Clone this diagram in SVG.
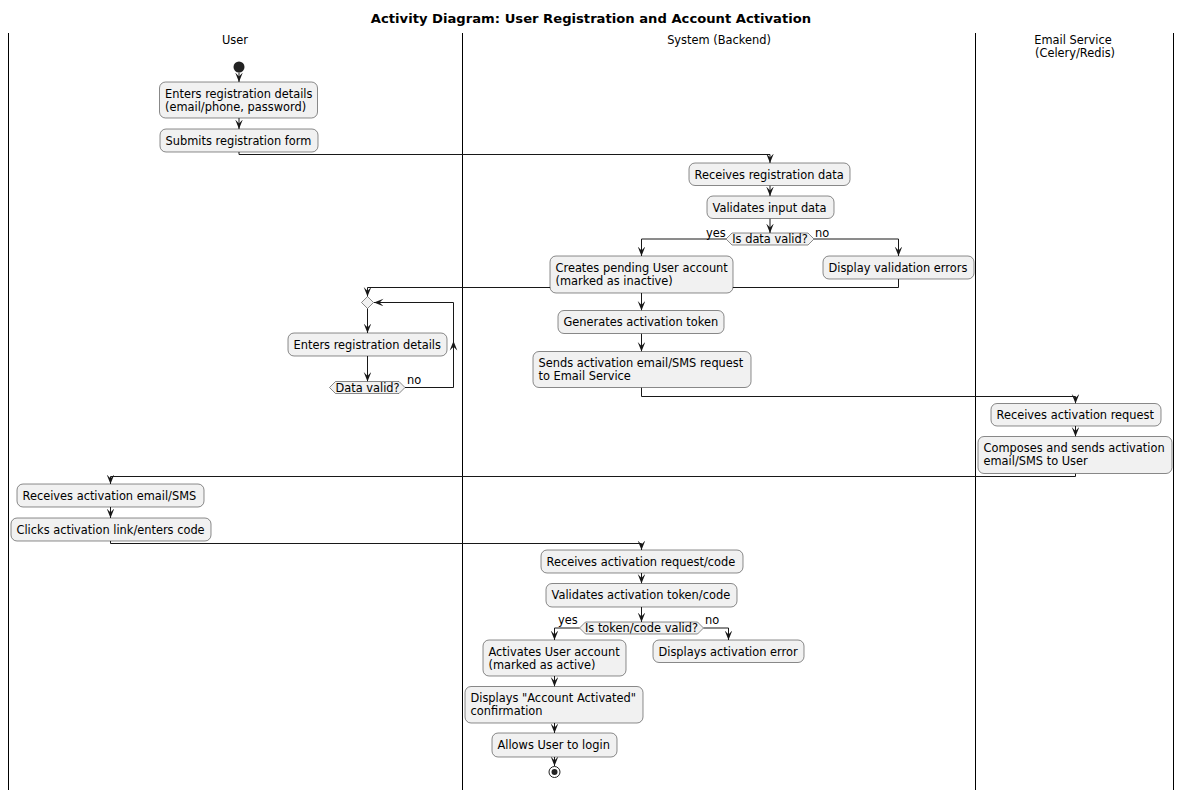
<svg xmlns="http://www.w3.org/2000/svg" width="1183" height="793" viewBox="0 0 1183 793">
<style>
.t{font-family:"DejaVu Sans","Liberation Sans",sans-serif;font-size:11.4px;fill:#000}
.c{text-anchor:middle}
.title{font-family:"DejaVu Sans","Liberation Sans",sans-serif;font-size:13.15px;font-weight:bold;text-anchor:middle;fill:#000}
.box{fill:#F1F1F1;stroke:#181818;stroke-width:0.5}
.lane{stroke:#000;stroke-width:1}
.edge{fill:none;stroke:#181818;stroke-width:1;marker-end:url(#ah)}
</style>
<defs>
<marker id="ah" markerUnits="userSpaceOnUse" markerWidth="10" markerHeight="8" refX="9.5" refY="3.8" orient="auto">
<path d="M0,0 L9.5,3.8 L0,7.6 L4,3.8 Z" fill="#181818"/>
</marker>
</defs>
<rect width="1183" height="793" fill="#fff"/>
<text class="title" x="591" y="23">Activity Diagram: User Registration and Account Activation</text>
<g id="lanes">
<line class="lane" x1="8.5" y1="33" x2="8.5" y2="790"/>
<line class="lane" x1="462.5" y1="33" x2="462.5" y2="790"/>
<line class="lane" x1="975.5" y1="33" x2="975.5" y2="790"/>
<line class="lane" x1="1173.5" y1="33" x2="1173.5" y2="790"/>
<text class="t c" x="235" y="44">User</text>
<text class="t c" x="719" y="44">System (Backend)</text>
<text class="t c" x="1073" y="44">Email Service</text>
<text class="t c" x="1075" y="57">(Celery/Redis)</text>
</g>
<g id="connectors">
<path class="edge" d="M239,72.5 V82"/>
<path class="edge" d="M239,118 V129"/>
<path class="edge" d="M239,152 V154.5 H770 V163"/>
<path class="edge" d="M770,185.5 V196"/>
<path class="edge" d="M770,218.5 V233"/>
<path class="edge" d="M726,239 H641.5 V256"/>
<path class="edge" d="M814,239 H898.5 V256"/>
<path class="edge" d="M898.5,279 V287.5 H367.5 V296.5"/>
<path class="edge" d="M641.5,293 V310.5"/>
<path class="edge" d="M641.5,333.5 V351.5"/>
<path class="edge" d="M641.5,387.5 V396.5 H1075.5 V403.5"/>
<path class="edge" d="M367.5,308.5 V333"/>
<path class="edge" d="M367.5,356 V381.5"/>
<path class="edge" d="M405,387.5 H453.5 V302.5 H374"/>
<path d="M453.5,341 L457.3,350.5 L453.5,346.7 L449.7,350.5 Z" fill="#181818"/>
<path class="edge" d="M1075.5,426 V436.5"/>
<path class="edge" d="M1075.5,473.5 V476.5 H110.5 V484"/>
<path class="edge" d="M110.5,507 V518"/>
<path class="edge" d="M110.5,541 V543.5 H641.5 V550"/>
<path class="edge" d="M641.5,573 V583.5"/>
<path class="edge" d="M641.5,607 V622"/>
<path class="edge" d="M579.5,628 H554.5 V640"/>
<path class="edge" d="M703.5,628 H728.5 V640"/>
<path class="edge" d="M554.5,676 V686.5"/>
<path class="edge" d="M554.5,723 V733"/>
<path class="edge" d="M554.5,757 V766"/>
<text class="t" x="706" y="236.5">yes</text>
<text class="t" x="815" y="236.5">no</text>
<text class="t" x="407" y="383.5">no</text>
<text class="t" x="558" y="624">yes</text>
<text class="t" x="705" y="624">no</text>
</g>
<g id="start"><circle cx="239" cy="67" r="5.5" fill="#222"/></g>
<g id="n1"><rect class="box" x="159.5" y="82" width="158" height="36" rx="6"/><text class="t" x="165" y="97.5">Enters registration details</text><text class="t" x="165" y="110.5">(email/phone, password)</text></g>
<g id="n2"><rect class="box" x="160" y="129" width="158" height="23" rx="6"/><text class="t" x="165.5" y="144.5">Submits registration form</text></g>
<g id="n3"><rect class="box" x="689" y="163" width="161" height="22.5" rx="6"/><text class="t" x="694.5" y="178.5">Receives registration data</text></g>
<g id="n4"><rect class="box" x="707" y="196" width="127" height="22.5" rx="6"/><text class="t" x="712.5" y="211.5">Validates input data</text></g>
<g id="d1"><polygon class="box" points="726,239 732,233 808,233 814,239 808,245 732,245"/><text class="t c" x="770" y="243">Is data valid?</text></g>
<g id="n5"><rect class="box" x="550" y="256" width="183" height="37" rx="6"/><text class="t" x="555.5" y="271.5">Creates pending User account</text><text class="t" x="555.5" y="284.5">(marked as inactive)</text></g>
<g id="n6"><rect class="box" x="823" y="256" width="151" height="23" rx="6"/><text class="t" x="828.5" y="271.5">Display validation errors</text></g>
<g id="n7"><rect class="box" x="558" y="310.5" width="166" height="23" rx="6"/><text class="t" x="563.5" y="326">Generates activation token</text></g>
<g id="n8"><rect class="box" x="533" y="351.5" width="218" height="36" rx="6"/><text class="t" x="538.5" y="367">Sends activation email/SMS request</text><text class="t" x="538.5" y="380">to Email Service</text></g>
<g id="m1"><polygon class="box" points="367.5,296.5 373.5,302.5 367.5,308.5 361.5,302.5"/></g>
<g id="n9"><rect class="box" x="288" y="333" width="159" height="23" rx="6"/><text class="t" x="293.5" y="348.5">Enters registration details</text></g>
<g id="d2"><polygon class="box" points="329.5,387.5 335.5,381.5 399,381.5 405,387.5 399,393.5 335.5,393.5"/><text class="t c" x="367.5" y="391.5">Data valid?</text></g>
<g id="n10"><rect class="box" x="991" y="403.5" width="170" height="22.5" rx="6"/><text class="t" x="996.5" y="419">Receives activation request</text></g>
<g id="n11"><rect class="box" x="978" y="436.5" width="194" height="37" rx="6"/><text class="t" x="983.5" y="452">Composes and sends activation</text><text class="t" x="983.5" y="465">email/SMS to User</text></g>
<g id="n12"><rect class="box" x="17" y="484" width="187" height="23" rx="6"/><text class="t" x="22.5" y="499.5">Receives activation email/SMS</text></g>
<g id="n13"><rect class="box" x="11" y="518" width="200" height="23" rx="6"/><text class="t" x="16.5" y="533.5">Clicks activation link/enters code</text></g>
<g id="n14"><rect class="box" x="541" y="550" width="202" height="23" rx="6"/><text class="t" x="546.5" y="565.5">Receives activation request/code</text></g>
<g id="n15"><rect class="box" x="546" y="583.5" width="191" height="23.5" rx="6"/><text class="t" x="551.5" y="599">Validates activation token/code</text></g>
<g id="d3"><polygon class="box" points="579.5,628 585.5,622 697.5,622 703.5,628 697.5,634 585.5,634"/><text class="t c" x="641.5" y="632">Is token/code valid?</text></g>
<g id="n16"><rect class="box" x="483" y="640" width="143" height="36" rx="6"/><text class="t" x="488.5" y="655.5">Activates User account</text><text class="t" x="488.5" y="668.5">(marked as active)</text></g>
<g id="n17"><rect class="box" x="653" y="640" width="151" height="22.5" rx="6"/><text class="t" x="658.5" y="655.5">Displays activation error</text></g>
<g id="n18"><rect class="box" x="465" y="686.5" width="178" height="36.5" rx="6"/><text class="t" x="470.5" y="702">Displays "Account Activated"</text><text class="t" x="470.5" y="715">confirmation</text></g>
<g id="n19"><rect class="box" x="492" y="733" width="125" height="24" rx="6"/><text class="t" x="497.5" y="748.5">Allows User to login</text></g>
<g id="end"><circle cx="554.5" cy="772" r="5.5" fill="none" stroke="#222" stroke-width="1"/><circle cx="554.5" cy="772" r="3" fill="#222"/></g>
</svg>
